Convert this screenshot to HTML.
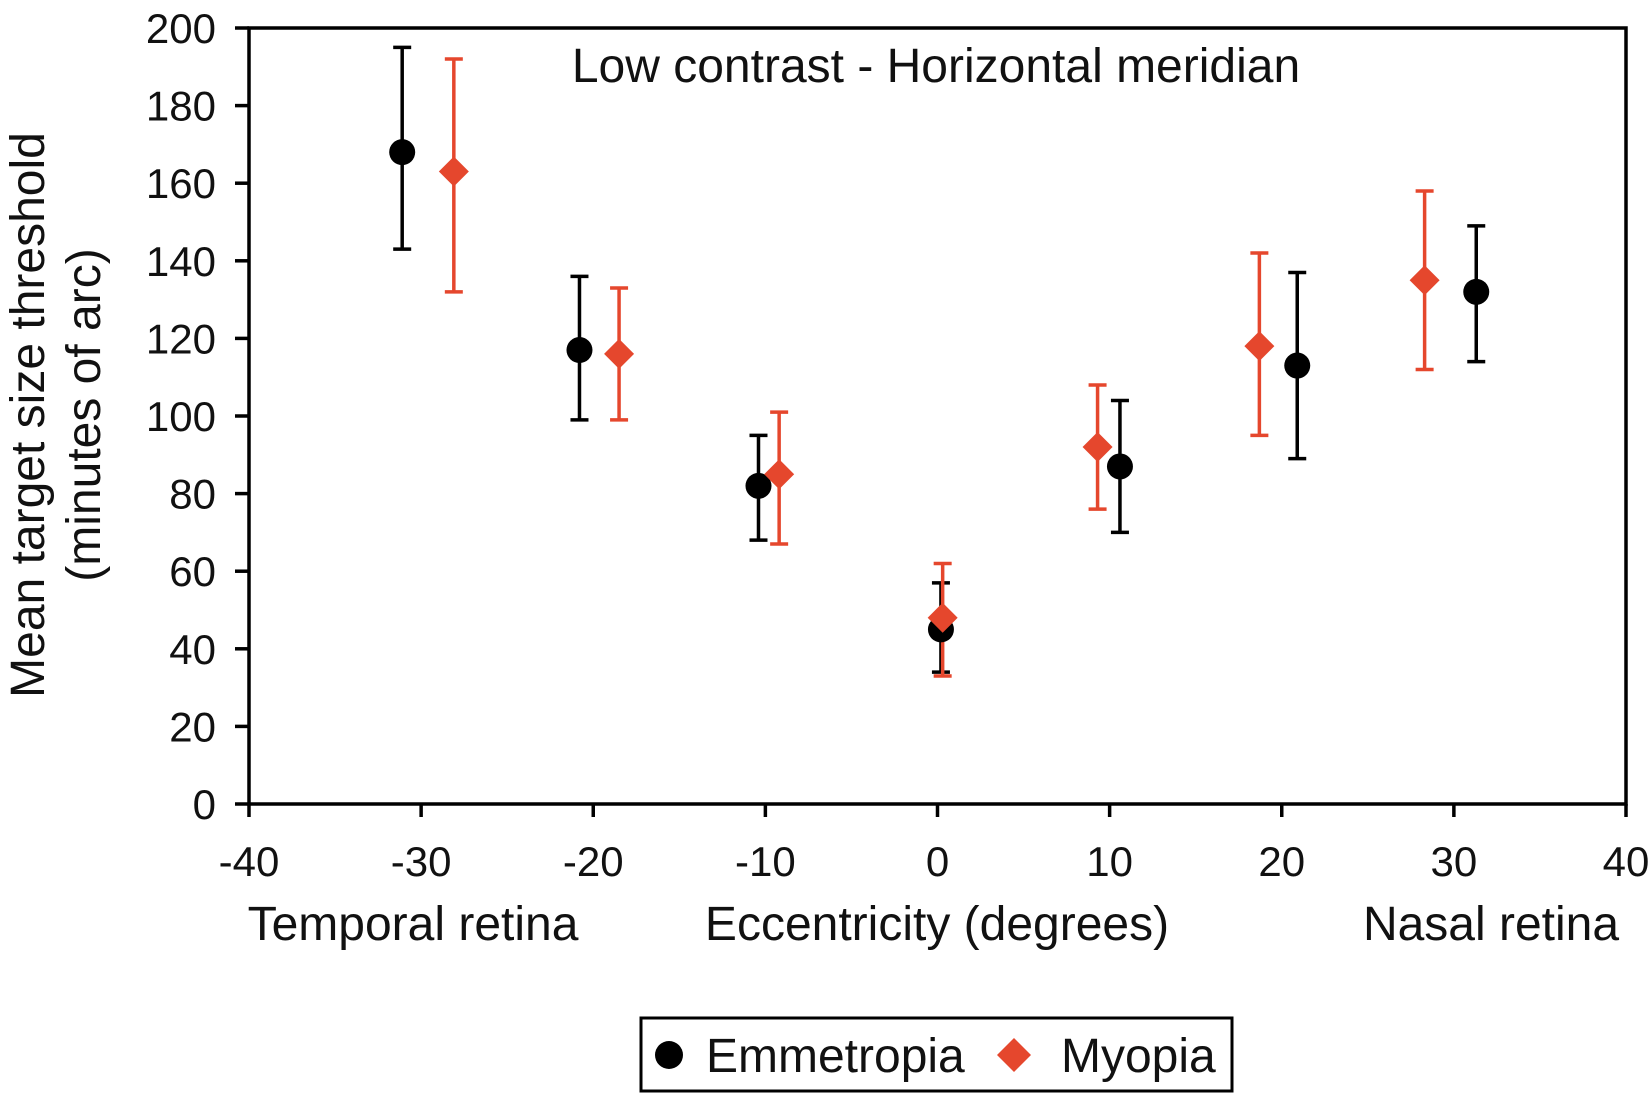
<!DOCTYPE html>
<html><head><meta charset="utf-8"><style>
html,body{margin:0;padding:0;background:#fff;}
svg{display:block;font-family:"Liberation Sans",Arial,sans-serif;}
</style></head><body>
<svg id="chart" width="1648" height="1094" viewBox="0 0 1648 1094">
<g id="axes"></g><g id="marks"></g>
</svg>
<script>
const xTicks=[-40,-30,-20,-10,0,10,20,30,40];
const yTicks=[0,20,40,60,80,100,120,140,160,180,200];
const emmX=[-31.1,-20.8,-10.4,0.2,10.6,20.9,31.3];
const emmY=[168,117,82,45,87,113,132];
const emmLo=[143,99,68,34,70,89,114];
const emmHi=[195,136,95,57,104,137,149];
const myoX=[-28.1,-18.5,-9.2,0.3,9.3,18.7,28.3];
const myoY=[163,116,85,48,92,118,135];
const myoLo=[132,99,67,33,76,95,112];
const myoHi=[192,133,101,62,108,142,158];
const L=249,R=1626,T=28,B=804;
const xs=v=>L+(v+40)/80*(R-L);
const ys=v=>B-v/200*(B-T);
const NS='http://www.w3.org/2000/svg';
function mk(tag,at,parent,txt){const e=document.createElementNS(NS,tag);for(const k in at)e.setAttribute(k,at[k]);if(txt!==undefined)e.textContent=txt;parent.appendChild(e);return e;}
const ax=document.getElementById('axes'),mg=document.getElementById('marks');
let e=mk('rect',{x:L,y:T,width:R-L,height:B-T,fill:'none',stroke:'#000','stroke-width':3.5},ax);

xTicks.forEach(t=>{
 let l=mk('line',{x1:xs(t),x2:xs(t),y1:B,y2:B+13,stroke:'#000','stroke-width':3.5},ax);
 
 let s=mk('text',{x:xs(t),y:876,'text-anchor':'middle','font-size':42,fill:'#111'},ax,String(t));
 
});
yTicks.forEach(t=>{
 let l=mk('line',{x1:L-14,x2:L,y1:ys(t),y2:ys(t),stroke:'#000','stroke-width':3.5},ax);
 
 let s=mk('text',{x:216,y:ys(t)+15,'text-anchor':'end','font-size':42,fill:'#111'},ax,String(t));
 
});
e=mk('text',{x:936,y:82,'text-anchor':'middle','font-size':48,fill:'#111'},ax,'Low contrast - Horizontal meridian');

e=mk('text',{x:413,y:940,'text-anchor':'middle','font-size':48,fill:'#111'},ax,'Temporal retina');

e=mk('text',{x:937,y:940,'text-anchor':'middle','font-size':48,fill:'#111'},ax,'Eccentricity (degrees)');

e=mk('text',{x:1491,y:940,'text-anchor':'middle','font-size':48,fill:'#111'},ax,'Nasal retina');

e=mk('text',{x:0,y:0,'text-anchor':'middle','font-size':48,fill:'#111',transform:'translate(44,415) rotate(-90)'},ax,'Mean target size threshold');

e=mk('text',{x:0,y:0,'text-anchor':'middle','font-size':48,fill:'#111',transform:'translate(100,415) rotate(-90)'},ax,'(minutes of arc)');

function errbar(x,lo,hi,col,name){
 const g=mk('g',{stroke:col,'stroke-width':3.5},mg);
 
 mk('line',{x1:xs(x),x2:xs(x),y1:ys(lo),y2:ys(hi)},g);
 mk('line',{x1:xs(x)-9,x2:xs(x)+9,y1:ys(lo),y2:ys(lo)},g);
 mk('line',{x1:xs(x)-9,x2:xs(x)+9,y1:ys(hi),y2:ys(hi)},g);
}
const RED='#e5472d';
emmX.forEach((x,i)=>errbar(x,emmLo[i],emmHi[i],'#000','emmetropia-error-bar'));
myoX.forEach((x,i)=>errbar(x,myoLo[i],myoHi[i],RED,'myopia-error-bar'));
emmX.forEach((x,i)=>{
 let c=mk('circle',{cx:xs(x),cy:ys(emmY[i]),r:13,fill:'#000'},mg);
 
});
myoX.forEach((x,i)=>{
 const cx=xs(x),cy=ys(myoY[i]),d=15;
 let p=mk('polygon',{points:`${cx},${cy-d} ${cx+d},${cy} ${cx},${cy+d} ${cx-d},${cy}`,fill:RED},mg);
 
});
const lg=mk('g',{},ax);

mk('rect',{x:641,y:1018,width:591,height:73,fill:'#fff',stroke:'#000','stroke-width':3},lg);
e=mk('g',{},lg);
mk('circle',{cx:669,cy:1055,r:14,fill:'#000'},e);
mk('text',{x:706,y:1072,'font-size':48,fill:'#111'},e,'Emmetropia');
e=mk('g',{},lg);
mk('polygon',{points:'1014,1038 1031,1055 1014,1072 997,1055',fill:RED},e);
mk('text',{x:1061,y:1072,'font-size':48,fill:'#111'},e,'Myopia');
</script>
</body></html>
